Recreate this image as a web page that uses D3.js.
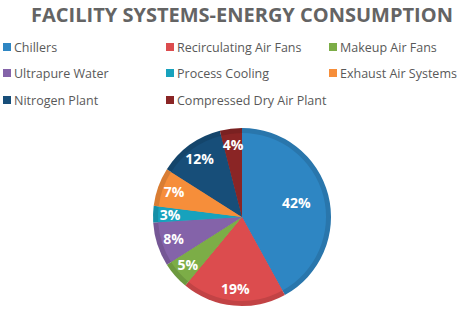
<!DOCTYPE html>
<html>
<head>
<meta charset="utf-8">
<script src="https://cdn.jsdelivr.net/npm/d3@7"></script>
<style>
body { margin: 0; background: #fff; }
svg { display: block; }
</style>
</head>
<body>
<script>
let w = 457;
let h = 309;

let categories = ["Chillers", "Recirculating Air Fans", "Makeup Air Fans", "Ultrapure Water",
    "Process Cooling", "Exhaust Air Systems", "Nitrogen Plant", "Compressed Dry Air Plant"];
let values = [42, 19, 5, 8, 3, 7, 12, 4];
let colors = ["#2e86c3", "#dc4c4e", "#7cad47", "#8463a9", "#17a2bd", "#f68e3a", "#174e79", "#8a2525"];

let svg = d3.select("body").append("svg")
    .attr("width", w)
    .attr("height", h);

// Title
svg.append("text")
    .attr("x", 242)
    .attr("y", 22)
    .attr("text-anchor", "middle")
    .style("font-family", "'Open Sans', sans-serif")
    .style("font-weight", "bold")
    .style("font-size", "20px")
    .style("fill", "#646464")
    .text("FACILITY SYSTEMS-ENERGY CONSUMPTION");

// Legend, 3 columns
let colX = [3, 166, 329];
let rowY = [47, 73, 100];
let legend = svg.selectAll("g.legend")
    .data(categories)
    .enter()
    .append("g")
    .attr("class", "legend")
    .attr("transform", function(d, i) {
        return "translate(" + colX[i % 3] + "," + rowY[Math.floor(i / 3)] + ")";
    });

legend.append("rect")
    .attr("x", 0)
    .attr("y", -4)
    .attr("width", 8)
    .attr("height", 8)
    .attr("fill", function(d, i) { return colors[i]; });

legend.append("text")
    .attr("x", 11)
    .attr("y", 4.5)
    .style("font-family", "'Open Sans', sans-serif")
    .style("font-size", "12.5px")
    .style("fill", "#595959")
    .text(function(d) { return d; });

// Pie
let cx = 242, cy = 217, r = 89;
let pie = d3.pie().sort(null);
let arcs = pie(values);

let arc = d3.arc().innerRadius(0).outerRadius(r);
let innerArc = d3.arc().innerRadius(0).outerRadius(r - 5);

let g = svg.append("g")
    .attr("transform", "translate(" + cx + "," + cy + ")");

// outer darker rim
g.selectAll("path.rim")
    .data(arcs)
    .enter()
    .append("path")
    .attr("class", "rim")
    .attr("d", arc)
    .attr("fill", function(d, i) { return d3.color(colors[i]).darker(0.35); });

// inner face
g.selectAll("path.face")
    .data(arcs)
    .enter()
    .append("path")
    .attr("class", "face")
    .attr("d", innerArc)
    .attr("fill", function(d, i) { return colors[i]; });

// labels: big slice nearer the centre, the rest near the rim (best fit)
g.selectAll("text.lbl")
    .data(arcs)
    .enter()
    .append("text")
    .attr("class", "lbl")
    .attr("transform", function(d) {
        let lr = (d.data >= 30 ? 0.63 : 0.81) * r;
        return "translate(" + d3.arc().innerRadius(lr).outerRadius(lr).centroid(d) + ")";
    })
    .attr("text-anchor", "middle")
    .attr("dy", "0.35em")
    .style("font-family", "'Open Sans', sans-serif")
    .style("font-weight", "bold")
    .style("font-size", "14px")
    .style("fill", "#fff")
    .text(function(d) { return d.data + "%"; });
</script>
</body>
</html>
